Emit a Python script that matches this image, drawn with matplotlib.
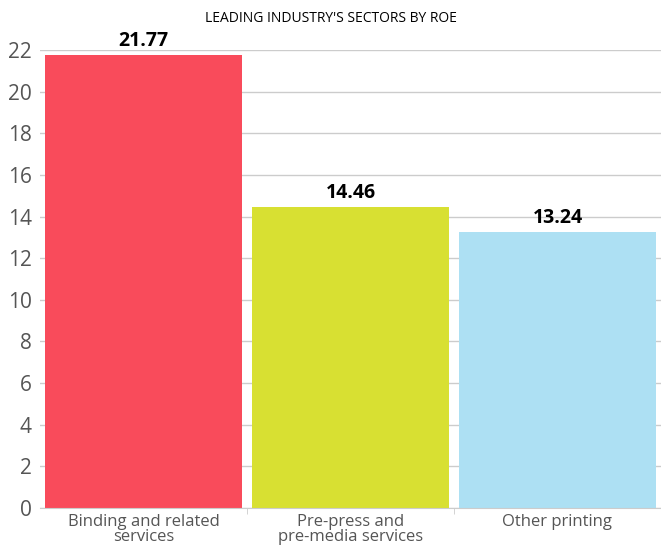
import matplotlib.pyplot as plt

#Sector names and ROE values
sectors = ["Binding and related\nservices", "Pre-press and\npre-media services", "Other printing"]
roe = [21.77, 14.46, 13.24]
colors = ["#F94B5B", "#D8E032", "#ADE0F3"]
yticks = [0, 2, 4, 6, 8, 10, 12, 14, 16, 18, 20, 22]

plt.rcParams['font.family'] = ['Open Sans', 'DejaVu Sans']

fig = plt.figure(figsize=(6.61, 5.5), dpi=100)
ax = fig.add_axes([40/661, 42/550, 621/661, 458/550])

x = range(len(sectors))
bars = ax.bar(x, roe, width=0.95, color=colors, zorder=2)

for b, v in zip(bars, roe):
    ax.annotate(f"{v:.2f}", (b.get_x() + b.get_width()/2, v),
                xytext=(0, 3), textcoords="offset points",
                ha="center", va="bottom", fontsize=14, fontweight="bold", color="black")

ax.set_xlim(-0.5, 2.5)
ax.set_ylim(0, 22)
ax.set_yticks(yticks)
ax.yaxis.grid(True, color="#cccccc", linewidth=1, zorder=0)
ax.set_axisbelow(True)

#category labels centered, ticks on the category boundaries
ax.set_xticks(list(x))
ax.set_xticklabels(sectors, fontsize=12, color="#555555", linespacing=0.95)
ax.tick_params(axis="x", length=0, pad=4)
ax.set_xticks([0.5, 1.5], minor=True)
ax.tick_params(axis="x", which="minor", length=4, color="#cccccc")
ax.tick_params(axis="y", length=0, labelsize=15, labelcolor="#555555", pad=6)

for s in ["top", "right", "left"]:
    ax.spines[s].set_visible(False)
ax.spines["bottom"].set_color("#cccccc")

fig.text(0.5, 1 - 18/550, "LEADING INDUSTRY'S SECTORS BY ROE",
         ha="center", va="center", fontsize=10, color="black")

fig.savefig("out.png", dpi=100)
